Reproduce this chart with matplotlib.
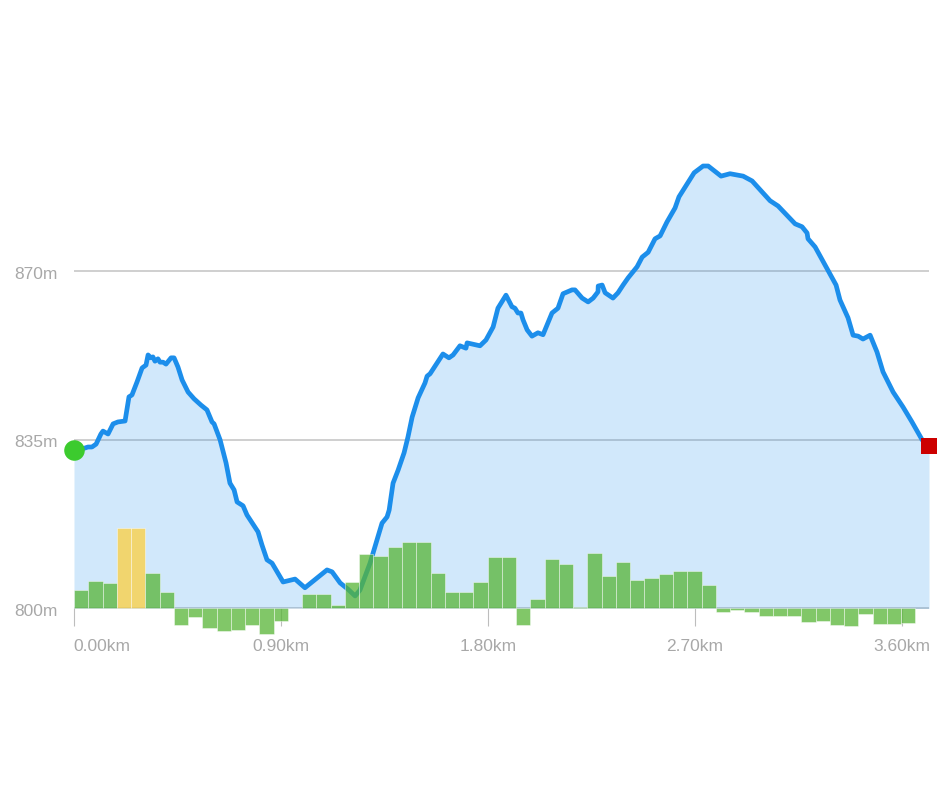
import matplotlib
matplotlib.use("Agg")
import matplotlib.pyplot as plt
from matplotlib.transforms import ScaledTranslation

plt.rcParams['font.family'] = ['Liberation Sans', 'DejaVu Sans']

distance_km = [0, .035, .061, .078, .096, .117, .126, .148, .170, .191, .222, .239, .252, .274, .296, .313, .322, .335, .343, .352,
               .365, .374, .387, .400, .422, .435, .452, .470, .496, .522, .552, .578, .600, .609, .635, .661, .678, .696, .709, .735,
               .752, .800, .817, .839, .861, .909, .961, 1.004, 1.100, 1.122, 1.157, 1.191, 1.222, 1.243, 1.287, 1.339, 1.361, 1.370, 1.387, 1.409,
               1.435, 1.452, 1.470, 1.496, 1.526, 1.535, 1.548, 1.578, 1.604, 1.630, 1.648, 1.678, 1.704, 1.709, 1.765, 1.791, 1.822, 1.843, 1.878, 1.904,
               1.917, 1.930, 1.943, 1.952, 1.970, 1.991, 2.017, 2.039, 2.078, 2.104, 2.126, 2.165, 2.178, 2.209, 2.235, 2.257, 2.278, 2.279, 2.296, 2.309,
               2.343, 2.365, 2.387, 2.409, 2.448, 2.470, 2.496, 2.526, 2.548, 2.578, 2.613, 2.630, 2.696, 2.735, 2.757, 2.813, 2.852, 2.909, 2.948, 3.026,
               3.061, 3.135, 3.165, 3.187, 3.191, 3.222, 3.313, 3.330, 3.365, 3.387, 3.409, 3.430, 3.461, 3.491, 3.517, 3.561, 3.604, 3.643, 3.687, 3.717]

elevation_m = [832.9, 833.1, 833.5, 833.5, 834.1, 836.2, 836.8, 836.2, 838.3, 838.7, 838.9, 843.9, 844.3, 847.0, 849.9, 850.5, 852.6, 852.0, 852.2, 851.3,
               851.8, 851.1, 851.1, 850.7, 852.0, 852.0, 850.1, 847.4, 844.9, 843.5, 842.2, 841.2, 838.7, 838.3, 835.0, 830.2, 826.0, 824.6, 822.1, 821.3,
               819.4, 815.9, 813.2, 810.1, 809.4, 805.5, 806.1, 804.3, 808.0, 807.6, 805.3, 804.0, 802.6, 803.8, 809.4, 817.7, 819.0, 820.4, 826.0, 828.7,
               832.3, 835.6, 839.7, 843.7, 846.8, 848.2, 848.7, 850.9, 852.8, 852.0, 852.6, 854.5, 854.0, 855.1, 854.5, 855.7, 858.4, 862.3, 865.0, 862.6,
               862.3, 861.3, 861.3, 859.9, 857.8, 856.5, 857.2, 856.8, 861.3, 862.3, 865.3, 866.1, 866.1, 864.4, 863.6, 864.4, 865.7, 866.9, 867.1, 865.5,
               864.4, 865.5, 867.1, 868.6, 870.9, 872.9, 873.9, 876.7, 877.3, 880.2, 883.1, 885.4, 890.4, 891.8, 891.8, 889.7, 890.2, 889.7, 888.7, 884.6,
               883.5, 879.8, 879.2, 877.9, 876.7, 875.0, 867.1, 864.0, 860.3, 856.7, 856.5, 855.9, 856.7, 853.2, 849.1, 844.9, 841.8, 838.7, 835.0, 833.7]

segment_change = [3.9, 5.8, 5.2, 16.6, 16.6, 7.3, 3.5, -3.5, -1.8, -4.1, -4.6, -4.4, -3.5, -5.2, -2.5, 0, 3.0, 3.0, .8, 5.4,
                  11.4, 10.9, 12.7, 13.7, 13.7, 7.4, 3.4, 3.4, 5.4, 10.6, 10.6, -3.5, 1.9, 10.2, 9.3, .4, 11.6, 6.8, 9.7, 6.0,
                  6.3, 7.2, 7.7, 7.7, 4.8, -.7, -.35, -.8, -1.5, -1.5, -1.5, -2.8, -2.7, -3.5, -3.7, -1.2, -3.3, -3.3, -3.0]
segment_width_km = .062
steep_threshold = 15

y_ticks = [800, 835, 870]
y_labels = ['800m', '835m', '870m']
x_ticks = [0, .9, 1.8, 2.7, 3.6]
x_labels = ['0.00km', '0.90km', '1.80km', '2.70km', '3.60km']

W, H = 940, 788
fig = plt.figure(figsize=(W / 100, H / 100), dpi=100)
ax = fig.add_axes([74 / W, 1 - 640 / H, 855 / W, 510 / H])
ax.set_xlim(0, 3.717)
ax.set_ylim(793.46, 899.27)
for s in ax.spines.values():
    s.set_visible(False)
ax.spines['bottom'].set_position(('data', 800))

ax.set_axisbelow(True)
ax.grid(axis='y', color='#c2c2c2', lw=1.1)
ax.fill_between(distance_km, 800, elevation_m, color='#1C8EEB', alpha=.2, lw=0, zorder=2)
ax.plot(distance_km, elevation_m, color='#1C8EEB', lw=3.4, solid_joinstyle='round', zorder=3)

colors = ['#FDCF3F' if v > steep_threshold else '#57B536' for v in segment_change]
lefts = [i * segment_width_km for i in range(len(segment_change))]
ax.bar(lefts, segment_change, width=segment_width_km, bottom=800, align='edge',
       color=colors, alpha=.75, edgecolor=(1, 1, 1, .25), lw=.4, zorder=4, clip_on=False)

ax.plot(distance_km[0], elevation_m[0], 'o', ms=14.8, color='#3CCB2E', mew=0, zorder=6, clip_on=False)
ax.plot(distance_km[-1], elevation_m[-1], 's', ms=12.2, color='#CC0000', mew=0, zorder=6, clip_on=False)

ax.set_yticks(y_ticks, y_labels)
ax.set_xticks(x_ticks, x_labels)
ax.tick_params(axis='y', length=0, pad=11.5, labelsize=12.5, labelcolor='#a8a8a8')
ax.tick_params(axis='x', length=13.3, width=.8, color='#bdbdbd', pad=8.5, labelsize=12.5, labelcolor='#a8a8a8')
xlabs = ax.get_xticklabels()
xlabs[0].set_ha('left')
shift_first = ScaledTranslation(-1 / 100, 0, fig.dpi_scale_trans)
xlabs[0].set_transform(xlabs[0].get_transform() + shift_first)
shift_y = ScaledTranslation(0, -1.5 / 100, fig.dpi_scale_trans)
for lab in ax.get_yticklabels():
    lab.set_transform(lab.get_transform() + shift_y)

fig.savefig('out.png', dpi=100)
